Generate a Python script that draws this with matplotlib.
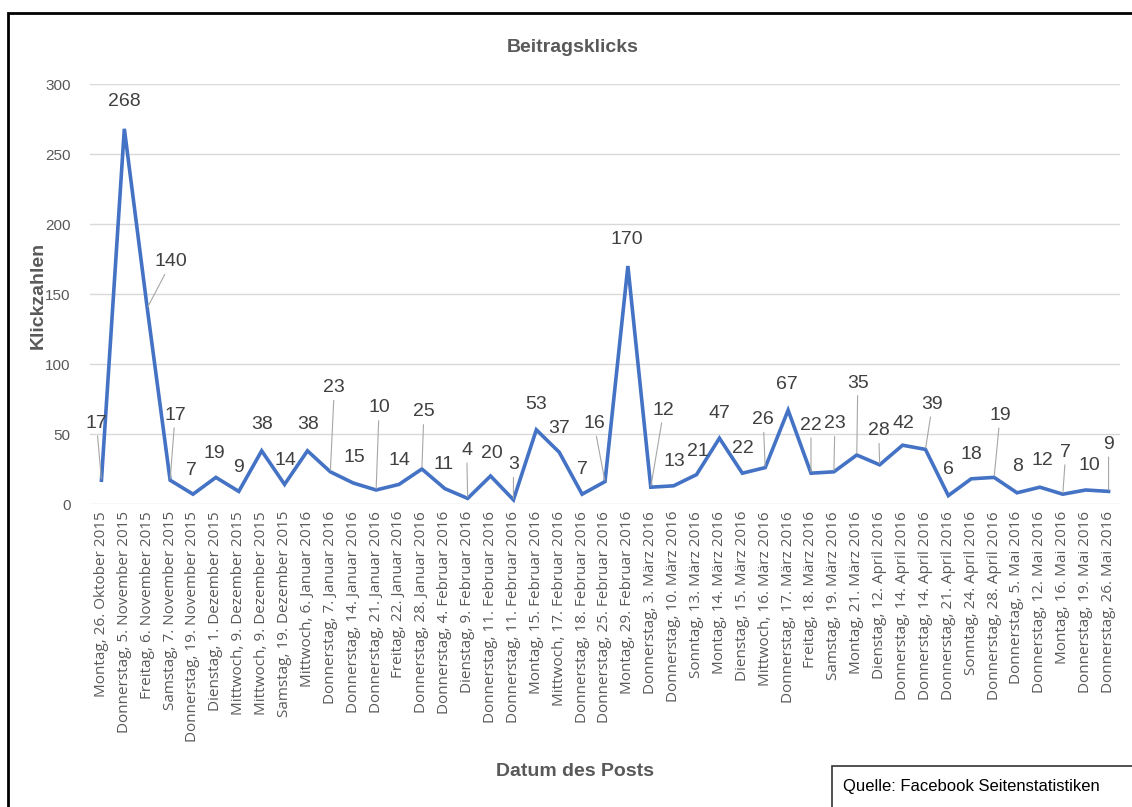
import numpy as np
import matplotlib.pyplot as plt
from matplotlib.patches import Rectangle
from matplotlib import font_manager

# pick a narrow font if one is there
names = {f.name for f in font_manager.fontManager.ttflist}
narrow = 'Liberation Sans Narrow' if 'Liberation Sans Narrow' in names else 'Liberation Sans'

dates = ['Montag, 26. Oktober 2015', 'Donnerstag, 5. November 2015', 'Freitag, 6. November 2015',
         'Samstag, 7. November 2015', 'Donnerstag, 19. November 2015', 'Dienstag, 1. Dezember 2015',
         'Mittwoch, 9. Dezember 2015', 'Mittwoch, 9. Dezember 2015', 'Samstag, 19. Dezember 2015',
         'Mittwoch, 6. Januar 2016', 'Donnerstag, 7. Januar 2016', 'Donnerstag, 14. Januar 2016',
         'Donnerstag, 21. Januar 2016', 'Freitag, 22. Januar 2016', 'Donnerstag, 28. Januar 2016',
         'Donnerstag, 4. Februar 2016', 'Dienstag, 9. Februar 2016', 'Donnerstag, 11. Februar 2016',
         'Donnerstag, 11. Februar 2016', 'Montag, 15. Februar 2016', 'Mittwoch, 17. Februar 2016',
         'Donnerstag, 18. Februar 2016', 'Donnerstag, 25. Februar 2016', 'Montag, 29. Februar 2016',
         'Donnerstag, 3. März 2016', 'Donnerstag, 10. März 2016', 'Sonntag, 13. März 2016',
         'Montag, 14. März 2016', 'Dienstag, 15. März 2016', 'Mittwoch, 16. März 2016',
         'Donnerstag, 17. März 2016', 'Freitag, 18. März 2016', 'Samstag, 19. März 2016',
         'Montag, 21. März 2016', 'Dienstag, 12. April 2016', 'Donnerstag, 14. April 2016',
         'Donnerstag, 14. April 2016', 'Donnerstag, 21. April 2016', 'Sonntag, 24. April 2016',
         'Donnerstag, 28. April 2016', 'Donnerstag, 5. Mai 2016', 'Donnerstag, 12. Mai 2016',
         'Montag, 16. Mai 2016', 'Donnerstag, 19. Mai 2016', 'Donnerstag, 26. Mai 2016']
clicks = [17, 268, 140, 17, 7, 19, 9, 38, 14, 38, 23, 15, 10, 14, 25, 11, 4, 20, 3, 53, 37, 7, 16,
          170, 12, 13, 21, 47, 22, 26, 67, 22, 23, 35, 28, 42, 39, 6, 18, 19, 8, 12, 7, 10, 9]
yticks = [0, 50, 100, 150, 200, 250, 300]

# label offsets in pixels (dx, dy), as placed in the original chart
label_dx = [-5, 0, 24, 5, -2, -2, 0, 0, 1, 1, 4, 1, 3, 0, 2, -1, -1, 1, 0, 0, 0, 0, -11,
            -1, 13, 1, 1, 0, 1, -2, -1, 0, 1, 1, -1, 1, 7, 0, 0, 6, 1, 2, 3, 4, 0]
label_dy = [-57, -27, -46, -65, -24, -24, -24, -26, -24, -26, -84, -25, -82, -24, -57, -24, -48,
            -23, -35, -25, -24, -25, -58, -27, -77, -24, -23, -25, -25, -48, -26, -48, -48, -72,
            -34, -22, -45, -26, -24, -62, -26, -27, -42, -24, -47]

grey = '#595959'
fig = plt.figure(figsize=(11.32, 8.07), dpi=100)
ax = fig.add_axes([90 / 1132, 303 / 807, 1030 / 1132, 420 / 807])

x = np.arange(len(clicks))
ax.plot(x, clicks, color='#4472C4', lw=2.6, solid_joinstyle='miter', zorder=3)

for i, v in enumerate(clicks):
    dx, dy = label_dx[i], -label_dy[i]
    far = abs(dy) > 30 or abs(dx) > 8
    ax.annotate(str(v), (x[i], v), xytext=(dx, dy), textcoords='offset pixels',
                ha='center', va='center', fontsize=14, color='#404040', family=narrow,
                arrowprops=dict(arrowstyle='-', color='#A6A6A6', lw=0.8,
                                shrinkA=1, shrinkB=1) if far else None, zorder=4)

ax.set_xlim(-0.5, len(clicks) - 0.5)
ax.set_ylim(0, 300)
ax.set_yticks(yticks)
ax.set_xticks(x)
ax.set_xticklabels(dates, rotation=90, fontsize=11, color=grey, family='Open Sans')
ax.tick_params(axis='y', length=0, pad=14, labelsize=11, labelcolor=grey)
for lab in ax.get_yticklabels():
    lab.set_family(narrow)
ax.tick_params(axis='x', length=0, pad=5)
ax.grid(axis='y', color='#D9D9D9', lw=1)
ax.set_axisbelow(True)
for s in ax.spines.values():
    s.set_visible(False)

fig.text(573 / 1132, 1 - 48 / 807, 'Beitragsklicks', ha='center', va='center',
         fontsize=14, fontweight='bold', color=grey, family=narrow)
fig.text(38 / 1132, 1 - 295 / 807, 'Klickzahlen', ha='center', va='center', rotation=90,
         fontsize=14, fontweight='bold', color=grey, family=narrow)
fig.text(575 / 1132, 1 - 771 / 807, 'Datum des Posts', ha='center', va='center',
         fontsize=14, fontweight='bold', color=grey, family=narrow)

# outer frame and source box
fig.add_artist(Rectangle((8 / 1132, -0.05), 1.1, 1.05 - 13 / 807, transform=fig.transFigure,
                         fill=False, edgecolor='black', lw=2))
fig.add_artist(Rectangle((832 / 1132, -0.05), 0.5, 0.05 + 41 / 807, transform=fig.transFigure,
                         facecolor='white', edgecolor='#333333', lw=1.2))
fig.text(843 / 1132, 1 - 786 / 807, 'Quelle: Facebook Seitenstatistiken', ha='left', va='center',
         fontsize=12, color='black', family=narrow)

fig.savefig('out.png', dpi=100)
